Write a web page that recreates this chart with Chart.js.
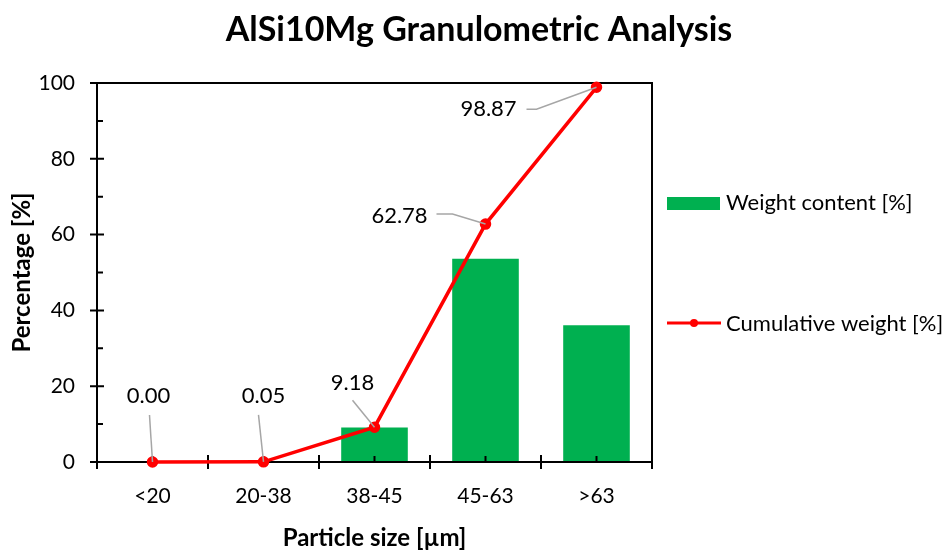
<!DOCTYPE html>
<html>
<head>
<meta charset="utf-8">
<script src="https://cdn.jsdelivr.net/npm/chart.js@4"></script>
<style>
  body { margin: 0; background: #fff; }
  #wrap { width: 946px; height: 553px; }
</style>
</head>
<body>
<div id="wrap"><canvas id="myChart" width="946" height="553"></canvas></div>
<script>
'use strict';

const sizeClasses = ['<20', '20-38', '38-45', '45-63', '>63'];
const weightContent = [0, 0.05, 9.13, 53.60, 36.09];
const cumulativeWeight = [0, 0.05, 9.18, 62.78, 98.87];
const yTicks = [0, 20, 40, 60, 80, 100];

const FONT = 'Lato, "Open Sans", sans-serif';
const GREEN = '#00B050';
const RED = '#FF0000';

// label placement around each cumulative point (pixels from the point)
const labelPos = [
  { text: [-4, -66], leader: [[-3, -47], [0, 0]] },
  { text: [0, -66], leader: [[-5, -47], [0, 0]] },
  { text: [-22, -44], leader: [[-22, -27], [0, 0]] },
  { text: [-86, -8], leader: [[-49, -10], [-33, -10], [0, 0]] },
  { text: [-108, 22], leader: [[-70, 22], [-60, 22], [0, 0]] }
];

// frame + excel style ticks, drawn after the bars but under the line
const axisPlugin = {
  id: 'axisPlugin',
  afterDatasetDraw(chart, args) {
    if (args.index !== 0) return;
    let ctx = chart.ctx;
    let a = chart.chartArea;
    let y = chart.scales.y;
    let x = chart.scales.x;
    ctx.save();
    ctx.strokeStyle = '#000';
    ctx.lineWidth = 2;
    ctx.strokeRect(a.left, a.top, a.right - a.left, a.bottom - a.top);
    ctx.beginPath();
    for (let v = 0; v <= 100; v += 10) {
      let py = y.getPixelForValue(v);
      if (v % 20 === 0) {
        ctx.moveTo(a.left - 7, py);
        ctx.lineTo(a.left + 7, py);
      } else {
        ctx.moveTo(a.left, py);
        ctx.lineTo(a.left + 6, py);
      }
    }
    let step = (a.right - a.left) / sizeClasses.length;
    for (let i = 0; i <= sizeClasses.length; i++) {
      let px = a.left + i * step;
      ctx.moveTo(px, a.bottom - 7);
      ctx.lineTo(px, a.bottom + 7);
    }
    for (let i = 0; i < sizeClasses.length; i++) {
      let px = x.getPixelForValue(i);
      ctx.moveTo(px, a.bottom);
      ctx.lineTo(px, a.bottom - 6);
    }
    ctx.stroke();
    ctx.restore();
  }
};

// title, value labels with grey leader lines, legend on the right
const labelPlugin = {
  id: 'labelPlugin',
  afterDraw(chart) {
    let ctx = chart.ctx;
    let meta = chart.getDatasetMeta(1);
    ctx.save();
    ctx.fillStyle = '#000';
    ctx.textAlign = 'center';
    ctx.textBaseline = 'middle';
    ctx.font = 'bold 34px ' + FONT;
    ctx.fillText('AlSi10Mg Granulometric Analysis', 479, 30);

    ctx.strokeStyle = '#A6A6A6';
    ctx.lineWidth = 1.5;
    meta.data.forEach(function(pt, i) {
      let lp = labelPos[i];
      ctx.beginPath();
      lp.leader.forEach(function(o, j) {
        if (j === 0) ctx.moveTo(pt.x + o[0], pt.y + o[1]);
        else ctx.lineTo(pt.x + o[0], pt.y + o[1]);
      });
      ctx.stroke();
    });
    ctx.font = '22px ' + FONT;
    meta.data.forEach(function(pt, i) {
      let lp = labelPos[i];
      ctx.fillText(cumulativeWeight[i].toFixed(2), pt.x + lp.text[0], pt.y + lp.text[1]);
    });

    // legend
    let lx = chart.chartArea.right + 15;
    ctx.textAlign = 'left';
    ctx.fillStyle = GREEN;
    ctx.fillRect(lx, 197, 53, 13);
    ctx.fillStyle = '#000';
    ctx.fillText(chart.data.datasets[0].label, lx + 59, 203);
    ctx.strokeStyle = RED;
    ctx.lineWidth = 3;
    ctx.beginPath();
    ctx.moveTo(lx, 323);
    ctx.lineTo(lx + 54, 323);
    ctx.stroke();
    ctx.fillStyle = RED;
    ctx.beginPath();
    ctx.arc(lx + 27, 323, 4, 0, Math.PI * 2);
    ctx.fill();
    ctx.fillStyle = '#000';
    ctx.fillText(chart.data.datasets[1].label, lx + 59, 324);
    ctx.restore();
  }
};

let chartCanvas = document.getElementById('myChart');

new Chart(chartCanvas, {
  data: {
    labels: sizeClasses,
    datasets: [{
      type: 'bar',
      label: 'Weight content [%]',
      data: weightContent,
      backgroundColor: GREEN,
      barPercentage: 0.6,
      categoryPercentage: 1,
      order: 1
    }, {
      type: 'line',
      label: 'Cumulative weight [%]',
      data: cumulativeWeight,
      borderColor: RED,
      backgroundColor: RED,
      borderWidth: 3.5,
      pointRadius: 4,
      pointBackgroundColor: RED,
      pointBorderColor: RED,
      tension: 0,
      clip: false,
      order: 0
    }]
  },
  options: {
    responsive: false,
    animation: false,
    layout: { padding: { left: 0, right: 294, top: 83, bottom: 0 } },
    plugins: {
      legend: { display: false },
      tooltip: { enabled: false },
      title: { display: false }
    },
    scales: {
      x: {
        offset: true,
        grid: { display: false },
        border: { display: false },
        ticks: { color: '#000', font: { family: FONT, size: 21 }, padding: 14 },
        title: {
          display: true,
          text: 'Particle size [µm]',
          color: '#000',
          font: { family: FONT, size: 24, weight: 'bold' },
          padding: { top: 12, bottom: 0 }
        },
        afterFit(scale) { scale.height = 91; }
      },
      y: {
        min: 0,
        max: 100,
        grid: { display: false },
        border: { display: false },
        afterBuildTicks(scale) {
          scale.ticks = yTicks.map(function(v) { return { value: v }; });
        },
        ticks: { color: '#000', font: { family: FONT, size: 21 }, padding: 14 },
        title: {
          display: true,
          text: 'Percentage [%]',
          color: '#000',
          font: { family: FONT, size: 24, weight: 'bold' },
          padding: { top: 8, bottom: 4 }
        },
        afterFit(scale) { scale.width = 97; }
      }
    }
  },
  plugins: [axisPlugin, labelPlugin]
});
</script>
</body>
</html>
